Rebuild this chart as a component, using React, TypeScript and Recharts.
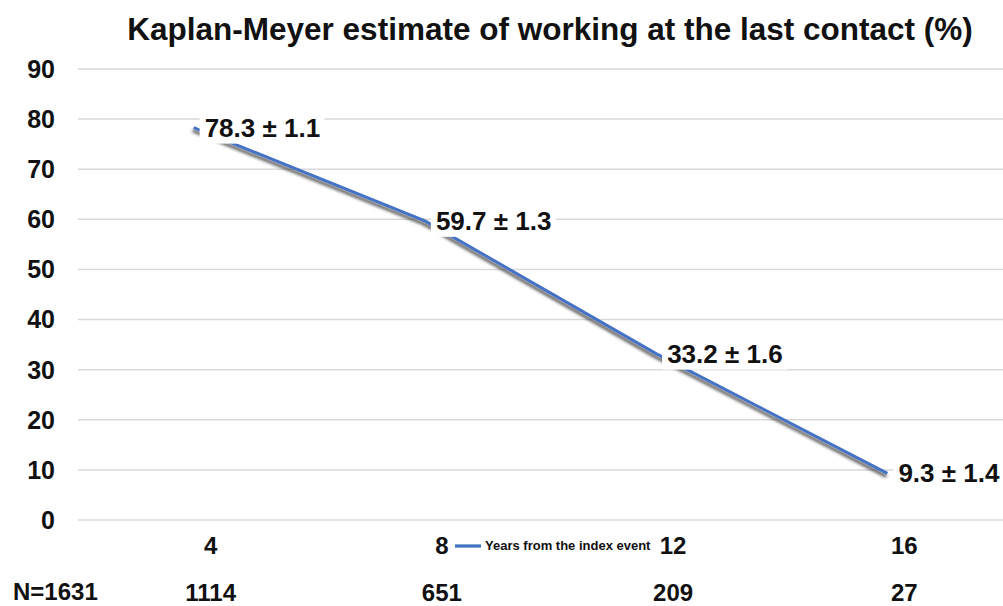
import { LineChart, Line, XAxis, YAxis, CartesianGrid, Legend, LabelList } from 'recharts';

const years = ['4', '8', '12', '16'];
const estimate = [78.3, 59.7, 33.2, 9.3];
const stdErr = [1.1, 1.3, 1.6, 1.4];
const atRisk = [1114, 651, 209, 27];
const baselineN = 1631;
const yTicks = [0, 10, 20, 30, 40, 50, 60, 70, 80, 90];

const data = years.map((year, i) => ({ year, value: estimate[i] }));

const FONT = '"Liberation Sans", Arial, sans-serif';

function YearTick(props: any) {
  const { x, y, payload, index } = props;
  return (
    <g fontFamily={FONT} fontWeight="bold" fontSize={24} fill="#111">
      <text x={x + 17} y={y + 25} textAnchor="middle" dominantBaseline="central">
        {payload.value}
      </text>
      <text x={x + 17} y={y + 72} textAnchor="middle" dominantBaseline="central">
        {atRisk[index]}
      </text>
    </g>
  );
}

function PointLabel(props: any) {
  const { x, y, index } = props;
  const text = `${estimate[index]} ± ${stdErr[index]}`;
  return (
    <g>
      <rect x={x + 6} y={y - 16} width={text.length * 12.5} height={32} fill="#fff" />
      <text
        x={x + 11}
        y={y}
        dominantBaseline="central"
        fontFamily={FONT}
        fontWeight="bold"
        fontSize={26}
        fill="#111"
      >
        {text}
      </text>
    </g>
  );
}

export default function App() {
  return (
    <div style={{ position: 'absolute', left: 0, top: 0, width: 1003, height: 606, background: '#fff', fontFamily: FONT }}>
      <div
        style={{
          position: 'absolute',
          top: 11,
          left: 0,
          width: 1100,
          textAlign: 'center',
          fontSize: 31.5,
          fontWeight: 'bold',
          color: '#111',
          whiteSpace: 'nowrap',
        }}
      >
        Kaplan-Meyer estimate of working at the last contact (%)
      </div>
      <div style={{ position: 'absolute', top: 578, left: 13, fontSize: 24, fontWeight: 'bold', color: '#111' }}>
        N={baselineN}
      </div>
      <LineChart width={1003} height={606} data={data} margin={{ top: 69, right: 0, bottom: 56, left: 0 }}>
        <defs>
          <filter id="lineShadow" x="-10%" y="-10%" width="120%" height="130%">
            <feDropShadow dx={-1} dy={3} stdDeviation={1.4} floodColor="#333" floodOpacity={0.85} />
          </filter>
        </defs>
        <CartesianGrid vertical={false} stroke="#d9d9d9" strokeWidth={1.5} />
        <XAxis
          dataKey="year"
          scale="band"
          height={30}
          axisLine={false}
          tickLine={false}
          tickSize={0}
          tickMargin={0}
          tick={<YearTick />}
          interval={0}
        />
        <YAxis
          domain={[0, 90]}
          ticks={yTicks}
          width={78}
          axisLine={false}
          tickLine={false}
          tickSize={0}
          tickMargin={23}
          tick={{ fontFamily: FONT, fontWeight: 'bold', fontSize: 25, fill: '#111' }}
        />
        <Legend
          layout="horizontal"
          verticalAlign="middle"
          align="center"
          iconType="plainline"
          iconSize={26}
          wrapperStyle={{ top: 533, left: 455, width: 'auto' }}
          formatter={(value: string) => (
            <span style={{ color: '#111', fontWeight: 'bold', fontSize: 13 }}>{value}</span>
          )}
        />
        <Line
          name="Years from the index event"
          dataKey="value"
          stroke="#4472C4"
          strokeWidth={3}
          dot={false}
          isAnimationActive={false}
          filter="url(#lineShadow)"
        >
          <LabelList dataKey="value" content={<PointLabel />} />
        </Line>
      </LineChart>
    </div>
  );
}
